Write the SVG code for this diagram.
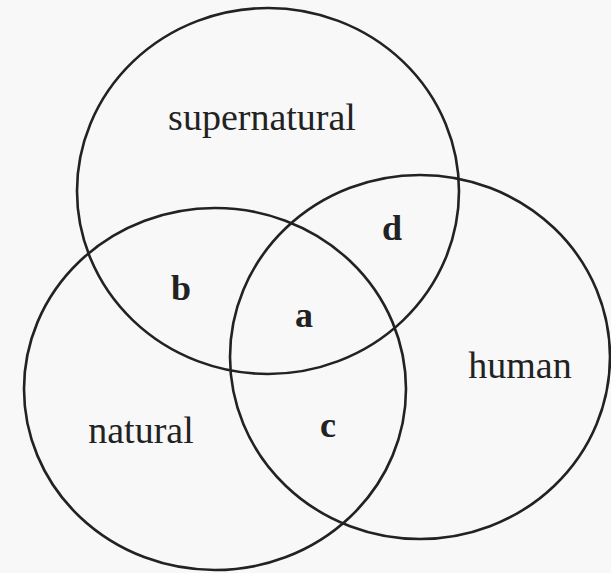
<svg xmlns="http://www.w3.org/2000/svg" width="611" height="573" viewBox="0 0 611 573">
  <style>
    .ring { fill: none; stroke: #222; stroke-width: 2.6; }
    .lbl { font-family: "Liberation Serif", "Times New Roman", serif; font-size: 38px; fill: #222; text-anchor: middle; }
    .key { font-family: "Liberation Serif", "Times New Roman", serif; font-size: 36px; font-weight: bold; fill: #222; text-anchor: middle; }
  </style>
  <rect x="0" y="0" width="611" height="573" fill="#f8f8f8"/>
  <g id="supernatural">
    <ellipse class="ring" cx="268" cy="191" rx="191" ry="183"/>
    <text class="lbl" x="262" y="130">supernatural</text>
  </g>
  <g id="natural">
    <ellipse class="ring" cx="215" cy="389" rx="191" ry="181"/>
    <text class="lbl" x="141" y="443">natural</text>
  </g>
  <g id="human">
    <ellipse class="ring" cx="420" cy="357" rx="190" ry="182"/>
    <text class="lbl" x="520" y="378">human</text>
  </g>
  <g id="region-a"><text class="key" x="304" y="327">a</text></g>
  <g id="region-b"><text class="key" x="181" y="300">b</text></g>
  <g id="region-c"><text class="key" x="328" y="437">c</text></g>
  <g id="region-d"><text class="key" x="392" y="240">d</text></g>
  <g id="connectors"></g>
</svg>
